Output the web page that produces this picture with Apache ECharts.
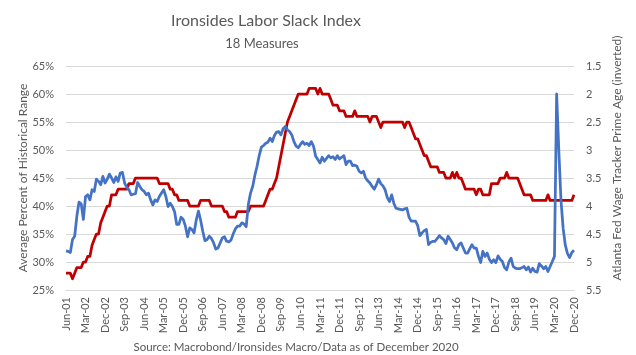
<!DOCTYPE html>
<html>
<head>
<meta charset="utf-8">
<script src="https://cdn.jsdelivr.net/npm/echarts@6/dist/echarts.min.js"></script>
<style>
html,body{margin:0;padding:0;background:#fff;}
#chart{width:636px;height:355px;}
</style>
</head>
<body>
<div id="chart"></div>
<script>
// Monthly, Jun-01 .. Dec-20
var startYear = 2001, startMonth = 5, monthCount = 235;
var monthNames = ['Jan','Feb','Mar','Apr','May','Jun','Jul','Aug','Sep','Oct','Nov','Dec'];
var categories = [];
for (var k = 0; k < monthCount; k++) {
  var m = (startMonth + k) % 12;
  var y = startYear + Math.floor((startMonth + k) / 12);
  categories.push(monthNames[m] + '-' + String(y % 100).padStart(2, '0'));
}

// Ironsides Labor Slack Index (left axis, %)
var slackIndex = [
  32.0,31.9,31.7,34.0,34.6,38.2,40.7,40.4,37.6,41.7,
  42.0,41.1,42.9,42.6,44.8,44.4,43.8,45.3,44.1,44.8,
  45.7,45.0,44.2,45.2,44.4,45.9,46.0,44.1,43.3,42.9,
  42.0,42.1,42.2,44.2,43.5,42.9,42.6,42.0,42.3,41.1,
  40.2,41.1,40.8,41.7,42.3,42.9,41.7,39.9,40.5,39.9,
  39.0,36.7,36.7,38.0,37.6,36.4,34.5,36.1,35.8,35.2,
  37.5,39.1,37.5,35.5,33.8,34.0,34.6,34.2,33.4,32.3,
  32.5,33.4,34.3,34.5,33.7,33.6,33.9,35.0,35.9,36.4,
  36.4,37.0,36.8,36.3,40.3,42.3,43.5,45.5,47.1,49.0,
  50.5,50.8,51.2,51.4,52.1,51.5,52.6,53.2,53.3,52.7,
  53.8,54.2,53.6,53.3,52.7,51.5,50.7,50.4,51.0,51.5,
  51.0,51.2,50.8,51.5,50.7,48.9,48.3,47.7,48.7,48.0,
  48.5,49.0,48.6,48.8,48.3,49.0,48.4,48.7,49.0,47.4,
  48.0,48.0,47.2,47.3,47.1,46.2,45.9,46.2,45.0,44.5,
  44.1,43.5,43.0,43.8,44.8,44.0,43.6,42.9,41.5,40.8,
  42.0,40.5,39.6,39.5,39.4,39.3,39.5,39.6,38.0,37.3,
  37.3,37.3,36.5,34.7,35.2,35.6,35.8,33.1,33.5,33.7,
  33.7,34.2,34.7,34.3,34.0,33.3,34.6,34.0,33.4,32.5,
  32.2,33.1,33.4,32.5,31.6,31.6,32.4,33.1,32.5,32.5,
  31.0,29.9,31.9,31.0,31.6,30.5,29.9,30.4,29.9,31.1,
  30.5,30.1,29.0,28.6,30.0,30.7,29.2,28.9,28.8,28.8,
  29.0,29.2,28.6,29.1,28.2,28.9,28.3,28.2,29.7,29.3,
  28.8,29.2,28.3,29.2,30.1,31.0,60.0,50.0,41.0,36.0,
  33.0,31.5,30.8,31.7,32.1
];

// Atlanta Fed Wage Tracker, prime age (right axis, inverted)
var wageTracker = [
  5.2,5.2,5.2,5.3,5.2,5.1,5.1,5.1,5.0,5.0,
  4.9,4.9,4.7,4.6,4.5,4.5,4.3,4.2,4.1,4.0,
  4.0,3.8,3.8,3.8,3.7,3.7,3.7,3.7,3.7,3.6,
  3.6,3.6,3.5,3.5,3.5,3.5,3.5,3.5,3.5,3.5,
  3.5,3.5,3.5,3.6,3.6,3.6,3.6,3.6,3.7,3.7,
  3.8,3.8,3.9,3.9,3.9,3.9,3.9,4.0,4.0,4.0,
  4.0,4.0,3.9,3.9,3.9,3.9,3.9,4.0,4.0,4.0,
  4.0,4.0,4.0,4.1,4.1,4.2,4.2,4.2,4.2,4.1,
  4.1,4.1,4.1,4.1,4.1,4.0,4.0,4.0,4.0,4.0,
  4.0,4.0,3.9,3.8,3.7,3.7,3.6,3.5,3.3,3.1,
  2.9,2.7,2.5,2.4,2.3,2.2,2.1,2.0,2.0,2.0,
  2.0,2.0,1.9,1.9,1.9,1.9,2.0,1.9,2.0,2.0,
  2.0,2.0,2.1,2.2,2.2,2.2,2.3,2.3,2.3,2.4,
  2.4,2.4,2.4,2.3,2.4,2.4,2.4,2.4,2.4,2.4,
  2.5,2.4,2.4,2.4,2.5,2.6,2.5,2.5,2.5,2.5,
  2.5,2.5,2.5,2.5,2.5,2.5,2.6,2.5,2.5,2.6,
  2.7,2.8,2.8,2.9,3.0,3.1,3.1,3.2,3.3,3.3,
  3.3,3.3,3.4,3.4,3.4,3.5,3.5,3.5,3.4,3.5,
  3.4,3.5,3.5,3.6,3.7,3.7,3.7,3.7,3.7,3.8,
  3.7,3.7,3.8,3.8,3.8,3.8,3.6,3.6,3.6,3.6,
  3.5,3.5,3.5,3.4,3.5,3.5,3.5,3.5,3.5,3.6,
  3.7,3.8,3.8,3.8,3.8,3.9,3.9,3.9,3.9,3.9,
  3.9,3.9,3.8,3.9,3.9,3.9,3.9,3.9,3.9,3.9,
  3.9,3.9,3.9,3.9,3.8
];

var leftTicks = {min: 25, max: 65, interval: 5};
var rightTicks = {min: 1.5, max: 5.5, interval: 0.5};

var FONT = 'Lato';
var TXT = '#595959';

var chart = echarts.init(document.getElementById('chart'), null, {renderer: 'canvas'});
chart.setOption({
  backgroundColor: '#ffffff',
  animation: false,
  textStyle: {fontFamily: FONT},
  title: [
    {text: 'Ironsides Labor Slack Index', left: 261, top: 8, textAlign: 'center',
     textStyle: {fontFamily: FONT, fontSize: 16, fontWeight: 'normal', color: TXT}},
    {text: '18 Measures', left: 257, top: 32, textAlign: 'center',
     textStyle: {fontFamily: FONT, fontSize: 13, fontWeight: 'normal', color: TXT}},
    {text: 'Source: Macrobond/Ironsides Macro/Data as of December 2020', left: 291, top: 336, textAlign: 'center',
     textStyle: {fontFamily: FONT, fontSize: 11.5, fontWeight: 'normal', color: TXT}}
  ],
  grid: {left: 66, right: 62, top: 66, bottom: 65, containLabel: false},
  xAxis: {
    type: 'category',
    data: categories,
    boundaryGap: false,
    axisLine: {show: true, lineStyle: {color: '#D9D9D9', width: 1}},
    axisTick: {show: false},
    axisLabel: {interval: 8, rotate: 90, fontSize: 11, color: TXT, fontFamily: FONT, margin: 7},
    splitLine: {show: false}
  },
  yAxis: [
    {
      type: 'value', position: 'left',
      min: leftTicks.min, max: leftTicks.max, interval: leftTicks.interval,
      axisLine: {show: false}, axisTick: {show: false},
      axisLabel: {formatter: '{value}%', fontSize: 11, color: TXT, fontFamily: FONT, margin: 12},
      splitLine: {show: true, lineStyle: {color: '#D9D9D9', width: 1}}
    },
    {
      type: 'value', position: 'right', inverse: true,
      min: rightTicks.min, max: rightTicks.max, interval: rightTicks.interval,
      axisLine: {show: false}, axisTick: {show: false},
      axisLabel: {fontSize: 11, color: TXT, fontFamily: FONT, margin: 12},
      splitLine: {show: false}
    }
  ],
  graphic: [
    {type: 'text', x: 23, y: 178, rotation: Math.PI / 2,
     style: {text: 'Average Percent of Historical Range', fill: TXT,
             font: '12px ' + FONT, align: 'center', verticalAlign: 'middle'}},
    {type: 'text', x: 617, y: 158, rotation: Math.PI / 2,
     style: {text: 'Atlanta Fed Wage Tracker Prime Age (inverted)', fill: TXT,
             font: '12px ' + FONT, align: 'center', verticalAlign: 'middle'}}
  ],
  series: [
    {
      name: 'Labor Slack Index', type: 'line', yAxisIndex: 0,
      data: slackIndex, showSymbol: false, symbol: 'none',
      lineStyle: {color: '#4472C4', width: 2.75, join: 'round'},
      itemStyle: {color: '#4472C4'}, z: 3
    },
    {
      name: 'Atlanta Fed Wage Tracker', type: 'line', yAxisIndex: 1,
      data: wageTracker, showSymbol: false, symbol: 'none',
      lineStyle: {color: '#C00000', width: 2.75, join: 'round'},
      itemStyle: {color: '#C00000'}, z: 2
    }
  ]
});
</script>
</body>
</html>
